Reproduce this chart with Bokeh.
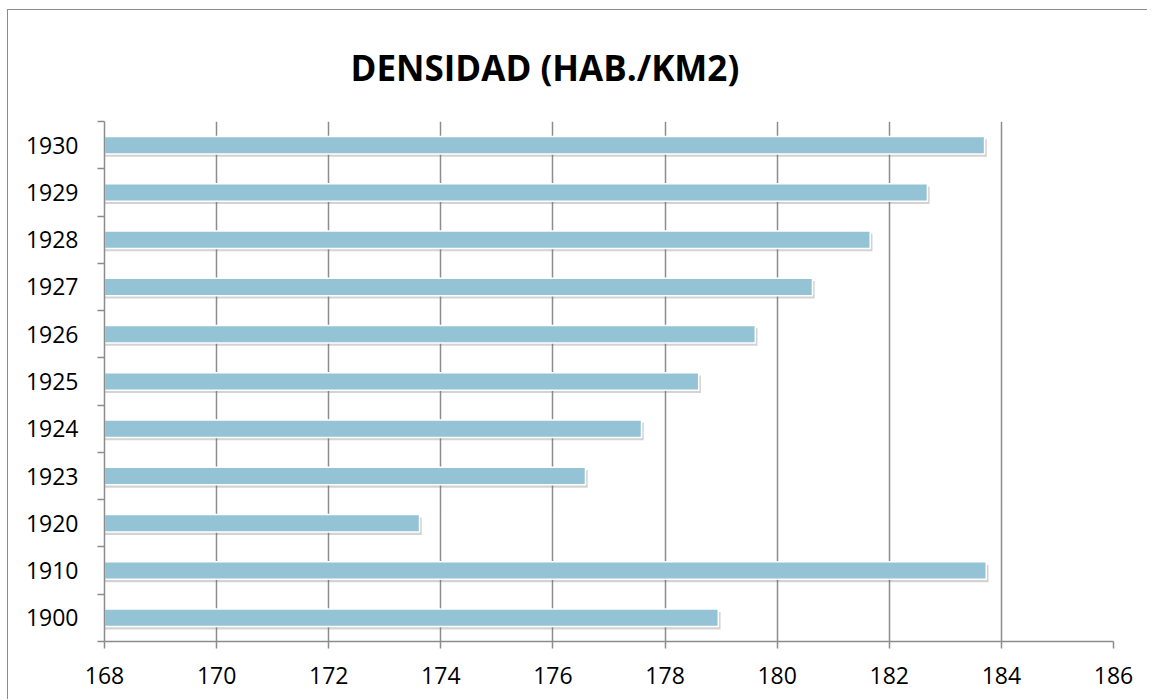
from bokeh.plotting import figure
from bokeh.models import FixedTicker, Range1d, Title
from bokeh.transform import dodge
from bokeh.embed import file_html
from bokeh.resources import INLINE

years = ["1900", "1910", "1920", "1923", "1924", "1925", "1926", "1927", "1928", "1929", "1930"]
density = [178.95, 183.73, 173.62, 176.58, 177.58, 178.6, 179.61, 180.63, 181.66, 182.68, 183.7]
x_ticks = [168, 170, 172, 174, 176, 178, 180, 182, 184, 186]
title_text = "DENSIDAD (HAB./KM2)"

ypos = list(range(len(years)))
src = dict(y=ypos, v=density)

p = figure(frame_width=1009, frame_height=520, output_backend="svg", toolbar_location=None,
           x_range=Range1d(168, 186), y_range=Range1d(-0.5, len(years) - 0.5),
           min_border_left=96, min_border_right=34, min_border_top=110, min_border_bottom=58)

p.title = Title(text=title_text, align="left", text_font="Open Sans", text_font_size="35px",
                text_font_style="bold", text_color="#000000", standoff=62, offset=246)

# shadow
p.hbar(y=dodge("y", -0.06), left=168, right=dodge("v", 0.04), height=0.37, source=src,
       fill_color="#6e6e6e", fill_alpha=0.3, line_color=None)
p.hbar(y="y", left=168, right="v", height=0.37, source=src,
       fill_color="#93C3D5", line_color="#ffffff", line_width=1.5)

p.xaxis.ticker = FixedTicker(ticks=x_ticks)
p.yaxis.ticker = FixedTicker(ticks=ypos, minor_ticks=[i - 0.5 for i in range(len(years) + 1)])
p.yaxis.major_label_overrides = {i: y for i, y in enumerate(years)}

for ax in (p.xaxis, p.yaxis):
    ax.axis_line_color = "#8c8c8c"
    ax.axis_line_width = 1.5
    ax.major_label_text_font = "Open Sans"
    ax.major_label_text_font_size = "23px"
    ax.major_label_text_color = "#000000"
p.xaxis.major_tick_line_color = "#8c8c8c"
p.xaxis.major_tick_line_width = 1.5
p.xaxis.major_tick_out = 7
p.xaxis.major_tick_in = 0
p.xaxis.minor_tick_line_color = None
p.xaxis.major_label_standoff = 18
p.yaxis.major_tick_line_color = None
p.yaxis.minor_tick_line_color = "#8c8c8c"
p.yaxis.minor_tick_line_width = 1.5
p.yaxis.minor_tick_out = 7
p.yaxis.minor_tick_in = 0
p.yaxis.major_label_standoff = 19

p.xgrid.ticker = FixedTicker(ticks=x_ticks)
p.xgrid.grid_line_color = "#8c8c8c"
p.xgrid.grid_line_width = 1.5
p.ygrid.grid_line_color = None
p.outline_line_color = None
p.background_fill_color = "#ffffff"
p.border_fill_color = "#ffffff"
p.stylesheets = [":host { margin-left: 7px; margin-top: 9px; border-left: 1.5px solid #8c8c8c; border-top: 1.5px solid #8c8c8c; }"]

html = file_html(p, INLINE)
open("out.html", "w").write(html)
